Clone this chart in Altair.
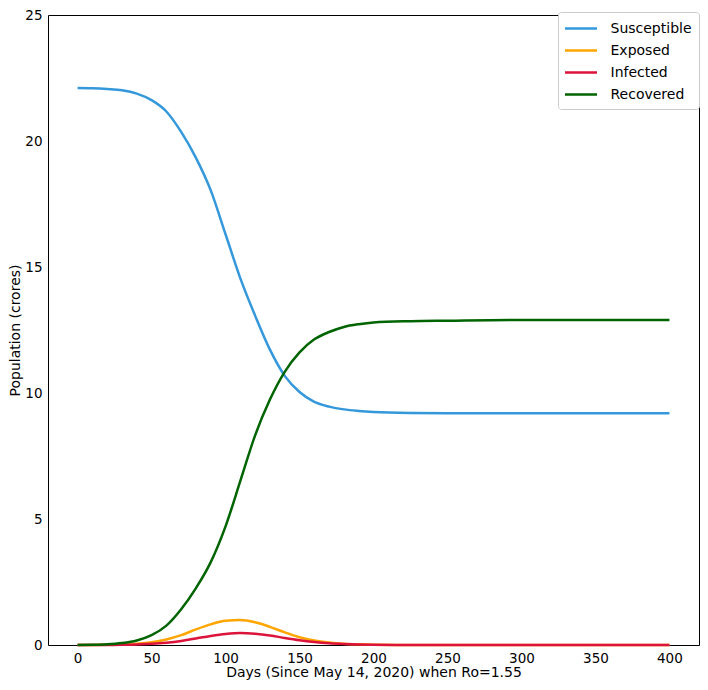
import altair as alt
import pandas as pd

days = [0, 10, 20, 30, 40, 50, 60, 70, 80, 90, 100, 110, 120, 130, 140, 150,
        160, 170, 180, 190, 200, 225, 250, 300, 350, 400]
susceptible = [22.1, 22.09, 22.06, 22.01, 21.88, 21.62, 21.17, 20.36, 19.33, 18.04, 16.3, 14.55,
               13.07, 11.72, 10.68, 10.04, 9.65, 9.46, 9.35, 9.29, 9.25, 9.21, 9.2, 9.2, 9.2, 9.2]
exposed = [0.0, 0.002, 0.008, 0.02, 0.05, 0.11, 0.22, 0.39, 0.62, 0.82, 0.96, 0.99,
           0.9, 0.72, 0.5, 0.31, 0.18, 0.1, 0.05, 0.025, 0.012, 0.002, 0.0, 0.0, 0.0, 0.0]
infected = [0.0, 0.001, 0.003, 0.008, 0.02, 0.045, 0.09, 0.16, 0.26, 0.36, 0.44, 0.48,
            0.45, 0.38, 0.28, 0.19, 0.12, 0.07, 0.04, 0.02, 0.01, 0.002, 0.0, 0.0, 0.0, 0.0]
recovered = [0.0, 0.006, 0.026, 0.077, 0.18, 0.39, 0.77, 1.42, 2.26, 3.29, 4.71, 6.51,
             8.32, 9.74, 10.84, 11.61, 12.13, 12.42, 12.62, 12.73, 12.8, 12.85, 12.87, 12.9, 12.9, 12.9]

series_names = ["Susceptible", "Exposed", "Infected", "Recovered"]
series_colors = ["#3498db", "#ffa500", "#dc143c", "#006400"]

rows = []
for name, vals in zip(series_names, [susceptible, exposed, infected, recovered]):
    for d, v in zip(days, vals):
        rows.append({"day": d, "value": v, "series": name})
df = pd.DataFrame(rows)

FONT = "DejaVu Sans"

chart = alt.Chart(df).mark_line(strokeWidth=2.5, interpolate="monotone").encode(
    x=alt.X("day:Q", scale=alt.Scale(domain=[-20, 420], nice=False, zero=False),
            axis=alt.Axis(values=[0, 50, 100, 150, 200, 250, 300, 350, 400],
                          title="Days (Since May 14, 2020) when Ro=1.55", grid=False,
                          ticks=False, domain=False, labelPadding=6, titlePadding=1)),
    y=alt.Y("value:Q", scale=alt.Scale(domain=[0, 25], nice=False),
            axis=alt.Axis(values=[0, 5, 10, 15, 20, 25], title="Population (crores)", grid=False,
                          ticks=False, domain=False, labelPadding=6, titlePadding=2)),
    color=alt.Color("series:N", scale=alt.Scale(domain=series_names, range=series_colors),
                    legend=alt.Legend(title=None, orient="none", legendX=510, legendY=-3,
                                      symbolType="M-2,0H2", symbolSize=256,
                                      symbolStrokeWidth=2.5, symbolOffset=6.5,
                                      labelFontSize=14, labelFont=FONT,
                                      labelOffset=20, rowPadding=5, padding=7,
                                      strokeColor="#cccccc", fillColor="white",
                                      cornerRadius=3, labelColor="#000000",
                                      offset=0)),
).properties(
    width=651, height=630,
    autosize=alt.AutoSizeParams(type="none"),
    padding={"left": 40, "top": 7, "right": 1, "bottom": 37},
).configure_view(
    stroke="#000000", strokeWidth=1
).configure_axis(
    labelFont=FONT, titleFont=FONT, labelFontSize=13.5, titleFontSize=14,
    labelColor="#000000", titleColor="#000000", titleFontWeight="normal"
)

chart.save("out.html", embed_options={"renderer": "svg", "actions": False})
